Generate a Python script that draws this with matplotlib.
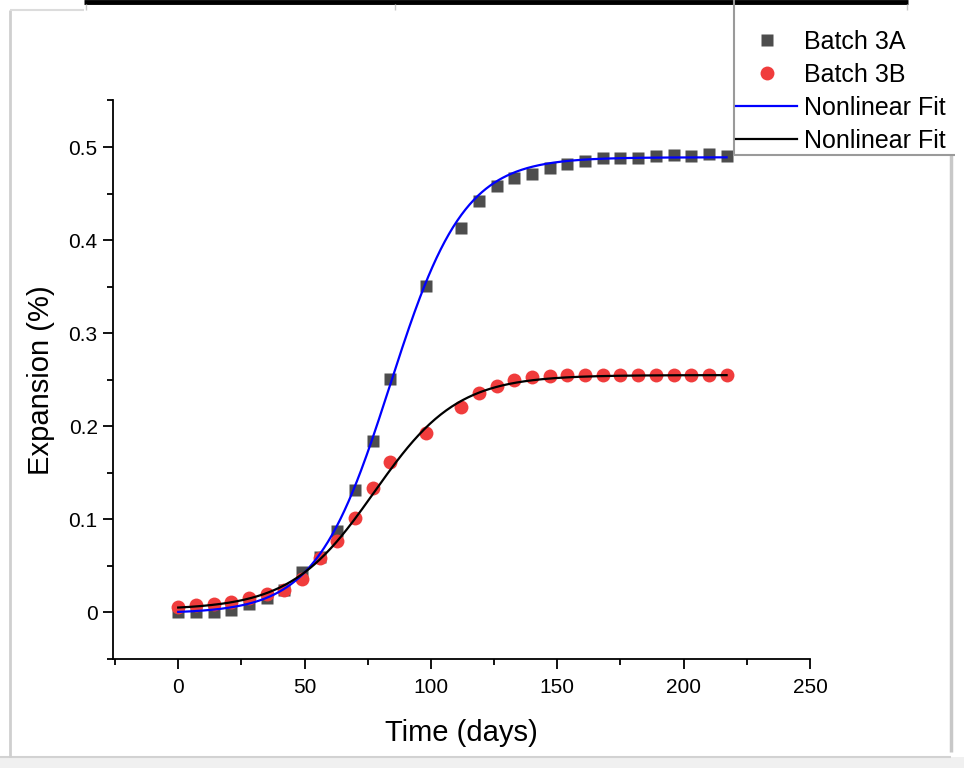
import matplotlib
matplotlib.use("Agg")
import matplotlib.pyplot as plt
import numpy as np
from matplotlib.lines import Line2D
from matplotlib.patches import Rectangle
from matplotlib.ticker import MultipleLocator

plt.rcParams["font.family"] = ["Liberation Sans", "DejaVu Sans"]

# expansion readings (%) against time (days)
days = [0, 7, 14, 21, 28, 35, 42, 49, 56, 63, 70, 77, 84, 98, 112,
        119, 126, 133, 140, 147, 154, 161, 168, 175, 182, 189, 196, 203, 210, 217]
batch_3a = [0.0, 0.0, 0.001, 0.003, 0.009, 0.016, 0.024, 0.043, 0.060, 0.088,
            0.132, 0.184, 0.251, 0.351, 0.413, 0.442, 0.458, 0.467, 0.471, 0.477,
            0.482, 0.485, 0.488, 0.488, 0.488, 0.490, 0.491, 0.490, 0.492, 0.490]
batch_3b = [0.006, 0.0075, 0.009, 0.011, 0.016, 0.020, 0.024, 0.036, 0.058, 0.077,
            0.101, 0.134, 0.162, 0.193, 0.221, 0.236, 0.243, 0.250, 0.253, 0.254,
            0.255, 0.255, 0.255, 0.255, 0.255, 0.255, 0.255, 0.255, 0.255, 0.255]

# Boltzmann sigmoid fit parameters: A1, A2, x0, dx
fit_3a = [-0.001, 0.489, 83.8, 14.6]
fit_3b = [0.003, 0.255, 77.5, 16.5]

legend_labels = ["Batch 3A", "Batch 3B", "Nonlinear Fit", "Nonlinear Fit"]

x_ticks = [0, 50, 100, 150, 200, 250]
y_ticks = [0, 0.1, 0.2, 0.3, 0.4, 0.5]
y_ticklabels = ["0", "0.1", "0.2", "0.3", "0.4", "0.5"]


def boltzmann(x, p):
    a1, a2, x0, dx = p
    return a2 + (a1 - a2) / (1 + np.exp((x - x0) / dx))


W, H = 964, 768
fig = plt.figure(figsize=(W / 100, H / 100), dpi=100)


def fx(px):
    return px / W


def fy(py):
    return 1 - py / H


ax = fig.add_axes([fx(113), fy(659), fx(810) - fx(113), fy(100.5) - fy(659)])

xfit = np.linspace(days[0], days[-1], 400)
h1, = ax.plot(days, batch_3a, "s", color="#4d4d4d", ms=9, mec="none", zorder=2)
h2, = ax.plot(days, batch_3b, "o", color="#f03c3c", ms=10, mec="none", zorder=3)
h3, = ax.plot(xfit, boltzmann(xfit, fit_3a), color="#0000ff", lw=1.6, zorder=4)
h4, = ax.plot(xfit, boltzmann(xfit, fit_3b), color="black", lw=1.6, zorder=5)

ax.set_xlim(-25.8, 250)
ax.set_ylim(-0.05, 0.55)
ax.set_xticks(x_ticks)
ax.xaxis.set_minor_locator(MultipleLocator(25))
ax.set_yticks(y_ticks)
ax.set_yticklabels(y_ticklabels)
ax.yaxis.set_minor_locator(MultipleLocator(0.05))

for side in ("top", "right"):
    ax.spines[side].set_visible(False)
for side in ("left", "bottom"):
    ax.spines[side].set_linewidth(1.3)
ax.tick_params(which="major", direction="out", length=7, width=1.3,
               labelsize=15)
ax.tick_params(which="minor", direction="out", length=4, width=1.3)
ax.tick_params(axis="x", pad=7)
ax.tick_params(axis="y", pad=4)

ax.set_xlabel("Time (days)", fontsize=21)
ax.set_ylabel("Expansion (%)", fontsize=21)
ax.xaxis.set_label_coords(0.5, -0.107)
ax.yaxis.set_label_coords(-0.083, 0.5)

fig.legend([h1, h2, h3, h4], legend_labels, loc="upper left",
           bbox_to_anchor=(fx(736), fy(30)), frameon=False, fontsize=18,
           borderpad=0, borderaxespad=0, handlelength=2.45, handletextpad=0.28,
           labelspacing=0.36, markerscale=1.0)

# page frame around the graph
frame = dict(transform=fig.transFigure, solid_capstyle="butt")
fig.add_artist(Rectangle((0, 0), 1, fy(757), transform=fig.transFigure,
                         color="#f0f0f0", lw=0))
fig.add_artist(Line2D([fx(0), fx(951)], [fy(757), fy(757)],
                      color="#d2d2d2", lw=1.5, **frame))
fig.add_artist(Line2D([fx(10), fx(10)], [fy(10), fy(757)],
                      color="#cfcfcf", lw=2, **frame))
fig.add_artist(Line2D([fx(10), fx(84)], [fy(10), fy(10)],
                      color="#dcdcdc", lw=1.5, **frame))
fig.add_artist(Line2D([fx(951), fx(951)], [fy(155), fy(752)],
                      color="#c8c8c8", lw=2.5, **frame))
fig.add_artist(Line2D([fx(84), fx(908)], [fy(2), fy(2)],
                      color="black", lw=3.5, **frame))
for px in (86, 395, 907):
    fig.add_artist(Line2D([fx(px), fx(px)], [fy(4), fy(10)],
                          color="#c8c8c8", lw=1, **frame))

# legend box edges
fig.add_artist(Line2D([fx(734), fx(734)], [fy(0), fy(155)],
                      color="#9a9a9a", lw=1.5, **frame))
fig.add_artist(Line2D([fx(734), fx(955)], [fy(155), fy(155)],
                      color="#9a9a9a", lw=1.5, **frame))

fig.savefig("out.png", dpi=100)
